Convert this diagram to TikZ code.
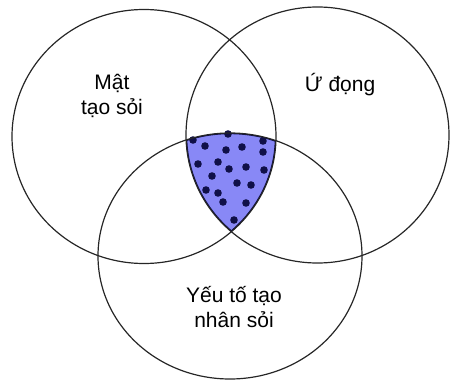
\documentclass[tikz,border=0pt]{standalone}
\usepackage{fontspec}
\setmainfont{Liberation Sans}
\usepackage{tikz}
\definecolor{vennblue}{RGB}{136,136,246}
\definecolor{dotnavy}{RGB}{16,16,72}

\begin{document}
\begin{tikzpicture}[x=1pt,y=1pt,
    ring/.style={draw=black!85,line width=1.2pt},
    lbl/.style={font=\fontsize{21}{25}\selectfont,align=center,anchor=base}]
  \useasboundingbox (0,0) rectangle (452,381);
  \coordinate (cl) at (144,244.5);
  \coordinate (cr) at (317.5,246);
  \coordinate (cb) at (230,125);
  % shaded overlap of the three rings
  \begin{scope}
    \clip (cl) ellipse [x radius=132,y radius=127];
    \clip (cr) ellipse [x radius=131.5,y radius=128];
    \clip (cb) ellipse [x radius=132,y radius=123];
    \fill[vennblue] (0,0) rectangle (452,381);
    \draw[dotnavy,line width=2.4pt] (cl) ellipse [x radius=132,y radius=127]
      (cr) ellipse [x radius=131.5,y radius=128]
      (cb) ellipse [x radius=132,y radius=123];
  \end{scope}
  \foreach \x/\y in {193/241,205/235,228/247,263/240,226/231,242/234,263/229,
      198/217,218/219,229/212,246/214,264/211,212/205,237/198,251/196,
      206/191,218/188,223/179,246/178,234/161}
    \fill[dotnavy] (\x,\y) circle (3.8);
  \draw[ring] (cl) ellipse [x radius=132,y radius=127];
  \draw[ring] (cr) ellipse [x radius=131.5,y radius=128];
  \draw[ring] (cb) ellipse [x radius=132,y radius=123];
  \node[lbl] (mat) at (112,266) {Mật\\tạo sỏi};
  \node[lbl] (ung) at (340,290) {Ứ đọng};
  \node[lbl] (yeuto) at (234,54) {Yếu tố tạo\\nhân sỏi};
\end{tikzpicture}
\end{document}
